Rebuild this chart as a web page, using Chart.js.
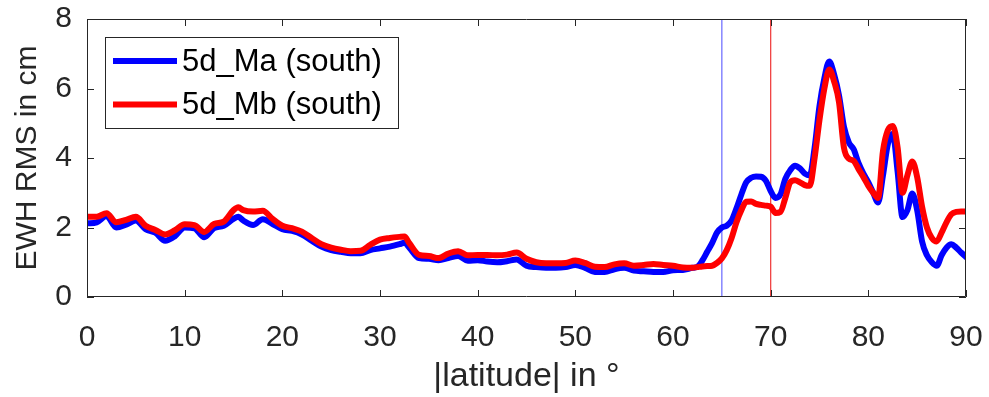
<!DOCTYPE html>
<html>
<head>
<meta charset="utf-8">
<script src="https://cdn.jsdelivr.net/npm/chart.js@4"></script>
<style>
  html, body { margin: 0; padding: 0; background: #fff; overflow: hidden; }
  #wrap { position: relative; width: 989px; height: 397px; }
  #rms { display: block; }
</style>
</head>
<body>
<div id="wrap"><canvas id="rms"></canvas></div>
<script>
// |latitude| grid, degrees
const latitude = [
  0, 1, 2, 3, 4, 5, 6, 7, 8, 9, 10, 11, 12, 13, 14, 15, 15.5, 16, 17, 18, 19, 20,
  21, 22, 23, 24, 25, 26, 27, 28, 29, 30, 31, 32, 32.5, 33, 34, 35, 36, 37, 38, 39, 40,
  41, 42, 43, 44, 45, 46, 47, 48, 49, 50, 51, 52, 53, 54, 55, 56, 57, 58, 59, 60,
  61, 62, 62.5, 63, 63.5, 64, 64.5, 65, 65.5, 66, 66.5, 67, 67.5, 68, 68.5, 69, 69.5, 70,
  70.5, 71, 71.5, 72, 72.5, 73, 73.5, 74, 74.5, 75, 75.5, 76, 76.5, 77, 77.5, 78, 78.5, 79,
  79.5, 80, 80.5, 81, 81.5, 82, 82.5, 83, 83.5, 84, 84.5, 85, 85.5, 86, 86.5, 87, 87.5, 88,
  88.5, 89, 89.5, 90
];

// EWH RMS in cm, 5d_Ma (south)
const ma = [
  2.12, 2.15, 2.33, 2.00, 2.08, 2.20, 1.95, 1.85, 1.62, 1.75, 2.00, 1.98, 1.72, 1.98, 2.05, 2.25, 2.31, 2.20, 2.07, 2.24, 2.10, 1.95,
  1.90, 1.80, 1.62, 1.45, 1.35, 1.30, 1.26, 1.26, 1.35, 1.40, 1.45, 1.52, 1.56, 1.42, 1.12, 1.10, 1.06, 1.12, 1.18, 1.04, 1.06,
  1.02, 1.00, 1.03, 1.08, 0.90, 0.86, 0.84, 0.84, 0.86, 0.92, 0.84, 0.72, 0.72, 0.80, 0.84, 0.76, 0.74, 0.72, 0.72, 0.77,
  0.78, 0.84, 0.87, 1.05, 1.30, 1.55, 1.85, 2.00, 2.05, 2.20, 2.55, 2.95, 3.30, 3.43, 3.47, 3.46, 3.35, 3.05,
  2.85, 2.95, 3.40, 3.65, 3.78, 3.70, 3.55, 3.50, 4.30, 5.50, 6.30, 6.78, 6.40, 5.80, 4.90, 4.45, 4.25, 3.85,
  3.55, 3.30, 3.00, 2.72, 3.50, 4.40, 4.70, 3.60, 2.30, 2.50, 2.98, 2.50, 1.60, 1.20, 1.00, 0.90, 1.20, 1.42,
  1.52, 1.42, 1.28, 1.15
];

// EWH RMS in cm, 5d_Mb (south)
const mb = [
  2.31, 2.31, 2.41, 2.15, 2.22, 2.31, 2.05, 1.93, 1.80, 1.92, 2.09, 2.07, 1.87, 2.10, 2.17, 2.50, 2.58, 2.50, 2.46, 2.48, 2.25, 2.05,
  1.98, 1.88, 1.70, 1.52, 1.42, 1.36, 1.32, 1.33, 1.50, 1.65, 1.70, 1.73, 1.74, 1.55, 1.21, 1.18, 1.12, 1.25, 1.32, 1.20, 1.21,
  1.21, 1.20, 1.22, 1.28, 1.10, 1.00, 0.97, 0.97, 0.98, 1.05, 0.98, 0.87, 0.86, 0.94, 0.97, 0.90, 0.92, 0.95, 0.92, 0.90,
  0.85, 0.84, 0.86, 0.88, 0.89, 0.90, 0.98, 1.11, 1.35, 1.70, 2.15, 2.50, 2.74, 2.75, 2.68, 2.65, 2.63, 2.60,
  2.42, 2.45, 2.85, 3.30, 3.36, 3.30, 3.22, 3.20, 4.00, 5.10, 6.00, 6.55, 6.20, 5.60, 4.30, 3.98, 3.92, 3.68,
  3.45, 3.20, 3.00, 2.85, 4.20, 4.80, 4.92, 4.30, 3.00, 3.50, 3.90, 3.45, 2.60, 2.00, 1.70, 1.60, 1.85, 2.15,
  2.38, 2.45, 2.46, 2.46
];

// boundary latitudes marked by thin vertical lines
const boundaryMa = 65;
const boundaryMb = 70;

const xTicks = [0, 10, 20, 30, 40, 50, 60, 70, 80, 90];
const yTicks = [0, 2, 4, 6, 8];

const FONT = "'Liberation Sans', Arial, Helvetica, sans-serif";
const INK = '#262626';

const toPoints = (ys) => latitude.map((x, i) => ({ x, y: ys[i] }));
const vline = (x) => [{ x, y: 0 }, { x, y: 8 }];

// box + inward ticks on all four sides, like a matlab axes
const frame = {
  id: 'frame',
  afterDraw(chart) {
    const { ctx, chartArea: a, scales } = chart;
    const len = 7;
    ctx.save();
    ctx.strokeStyle = INK;
    ctx.lineWidth = 1;
    ctx.beginPath();
    ctx.rect(a.left + 0.5, a.top + 0.5, a.right - a.left - 1, a.bottom - a.top - 1);
    xTicks.forEach(v => {
      const px = Math.round(scales.x.getPixelForValue(v)) + 0.5;
      ctx.moveTo(px, a.bottom); ctx.lineTo(px, a.bottom - len);
      ctx.moveTo(px, a.top); ctx.lineTo(px, a.top + len);
    });
    yTicks.forEach(v => {
      const py = Math.round(scales.y.getPixelForValue(v)) + 0.5;
      ctx.moveTo(a.left, py); ctx.lineTo(a.left + len, py);
      ctx.moveTo(a.right, py); ctx.lineTo(a.right - len, py);
    });
    ctx.stroke();
    ctx.restore();
  }
};

// legend box in the upper left of the plot
const boxLegend = {
  id: 'boxLegend',
  afterDraw(chart) {
    const { ctx } = chart;
    const items = chart.data.datasets.filter(d => d.label);
    const x0 = 105, y0 = 37, w = 293, h = 91;
    ctx.save();
    ctx.fillStyle = '#fff';
    ctx.fillRect(x0, y0, w, h);
    ctx.strokeStyle = INK;
    ctx.lineWidth = 1;
    ctx.strokeRect(x0 + 0.5, y0 + 0.5, w, h);
    ctx.font = `31px ${FONT}`;
    ctx.textBaseline = 'middle';
    items.forEach((d, i) => {
      const y = 61 + i * 43.5;
      ctx.strokeStyle = d.borderColor;
      ctx.lineWidth = 6;
      ctx.beginPath();
      ctx.moveTo(113, y); ctx.lineTo(177, y);
      ctx.stroke();
      ctx.fillStyle = '#000';
      ctx.fillText(d.label, 182, y + 1);
    });
    ctx.restore();
  }
};

new Chart(document.getElementById('rms'), {
  type: 'line',
  data: {
    datasets: [
      { label: '5d_Ma (south)', data: toPoints(ma), borderColor: '#0000ff', borderWidth: 6, order: 2 },
      { label: '5d_Mb (south)', data: toPoints(mb), borderColor: '#ff0000', borderWidth: 6, order: 1 },
      { data: vline(boundaryMa), borderColor: 'rgba(40,40,255,0.65)', borderWidth: 1.3, order: 3 },
      { data: vline(boundaryMb), borderColor: 'rgba(235,20,20,0.8)', borderWidth: 1.3, order: 3 }
    ]
  },
  options: {
    responsive: true,
    maintainAspectRatio: false,
    animation: false,
    parsing: false,
    elements: {
      point: { radius: 0 },
      line: { tension: 0.35, cubicInterpolationMode: 'monotone', borderJoinStyle: 'round', borderCapStyle: 'round' }
    },
    layout: { autoPadding: false, padding: { top: 19, right: 23, left: 0, bottom: 0 } },
    plugins: { legend: { display: false }, tooltip: { enabled: false } },
    scales: {
      x: {
        type: 'linear', min: 0, max: 90,
        afterBuildTicks: s => { s.ticks = xTicks.map(value => ({ value })); },
        afterFit: s => { s.height = 100; },
        // tick marks themselves come from the frame plugin; tickLength only spaces the labels
        ticks: { font: { family: FONT, size: 30 }, color: INK, padding: 3, maxRotation: 0 },
        grid: { display: false, drawTicks: true, tickLength: 20 },
        border: { display: false },
        title: { display: true, text: '|latitude| in °', color: INK, font: { family: FONT, size: 34 }, padding: { top: 0, bottom: 0 } }
      },
      y: {
        type: 'linear', min: 0, max: 8,
        afterBuildTicks: s => { s.ticks = yTicks.map(value => ({ value })); },
        afterFit: s => { s.width = 87; },
        ticks: { font: { family: FONT, size: 30, lineHeight: 1 }, color: INK, padding: 3 },
        grid: { display: false, drawTicks: true, tickLength: 12 },
        border: { display: false },
        title: { display: true, text: 'EWH RMS in cm', color: INK, font: { family: FONT, size: 30 }, padding: { top: 10, bottom: 0 } }
      }
    }
  },
  plugins: [frame, boxLegend]
});
</script>
</body>
</html>
